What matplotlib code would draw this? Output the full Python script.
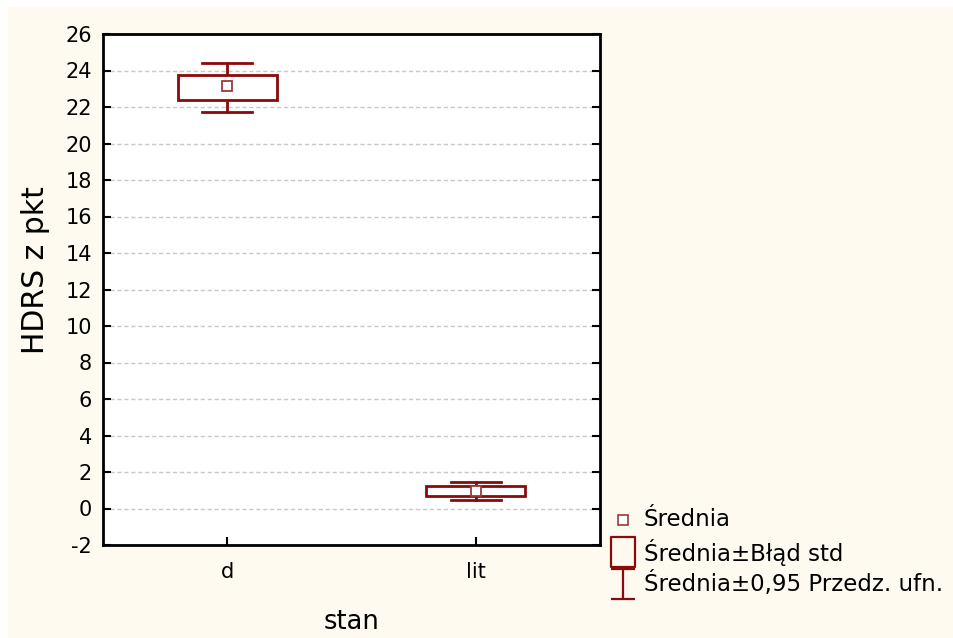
import matplotlib.pyplot as plt
from matplotlib.patches import Rectangle
from matplotlib.lines import Line2D
from matplotlib.path import Path

groups = ['d', 'lit']
means = [23.15, 0.96]
se_low = [22.4, 0.68]
se_high = [23.75, 1.23]
ci_low = [21.75, 0.47]
ci_high = [24.4, 1.45]
yticks = list(range(-2, 27, 2))

plt.rcParams['font.family'] = ['DejaVu Sans']
plt.rcParams['axes.unicode_minus'] = False
red = '#8B0A0A'
mean_edge = '#9A3A3A'
cream = '#FEFAF0'

W, H = 954, 638
fig = plt.figure(figsize=(W / 100, H / 100), dpi=100)
fig.patch.set_facecolor('white')
# cream background panel
fig.patches.append(Rectangle((8 / W, 0), 1, 1 - 7 / H, transform=fig.transFigure,
                             facecolor=cream, edgecolor='none', zorder=-10))

ax = fig.add_axes([103 / W, 1 - 545 / H, 497 / W, 511 / H])
ax.set_facecolor('white')

box_w = 0.4
cap_w = 0.2
for i in range(len(groups)):
    # whiskers (CI)
    ax.plot([i, i], [ci_low[i], se_low[i]], color=red, lw=2, zorder=3)
    ax.plot([i, i], [se_high[i], ci_high[i]], color=red, lw=2, zorder=3)
    ax.plot([i - cap_w / 2, i + cap_w / 2], [ci_low[i]] * 2, color=red, lw=2, zorder=3)
    ax.plot([i - cap_w / 2, i + cap_w / 2], [ci_high[i]] * 2, color=red, lw=2, zorder=3)
    # box (SE)
    ax.add_patch(Rectangle((i - box_w / 2, se_low[i]), box_w, se_high[i] - se_low[i],
                           facecolor='white', edgecolor=red, lw=2, zorder=4))
    # mean marker
    ax.plot(i, means[i], marker='s', ms=7.5, mfc='white', mec=mean_edge, mew=1.3,
            linestyle='none', zorder=5)

ax.set_xlim(-0.5, 1.5)
ax.set_ylim(-2, 26)
ax.set_xticks(range(len(groups)))
ax.set_xticklabels(groups)
ax.set_yticks(yticks)
ax.tick_params(axis='both', direction='in', length=6, width=1.5, labelsize=15,
               pad=8, right=True)
ax.tick_params(axis='x', pad=12)
ax.grid(axis='y', color='#C8C8C8', linestyle=(0, (3, 2)), lw=1)
ax.set_axisbelow(True)
for s in ax.spines.values():
    s.set_linewidth(2)

ax.set_xlabel('stan', fontsize=18.5, va='center')
ax.xaxis.set_label_coords(0.5, (545 - 622) / 511)
ax.set_ylabel('HDRS z pkt', fontsize=21.5, va='center')
ax.yaxis.set_label_coords((36 - 103) / 497, (545 - 270) / 511)

# legend, drawn by hand to reproduce the box / I-bar symbols
box_path = Path([(-0.4, -0.5), (0.4, -0.5), (0.4, 0.5), (-0.4, 0.5), (-0.4, -0.5)],
                [Path.MOVETO, Path.LINETO, Path.LINETO, Path.LINETO, Path.CLOSEPOLY])
ibar_path = Path([(-0.4, -0.5), (0.4, -0.5), (0, -0.5), (0, 0.5), (-0.4, 0.5), (0.4, 0.5)],
                 [Path.MOVETO, Path.LINETO, Path.MOVETO, Path.LINETO, Path.MOVETO, Path.LINETO])
labels = ['Średnia', 'Średnia±Błąd std', 'Średnia±0,95 Przedz. ufn.']
styles = [
    dict(marker='s', ms=7, mfc='white', mec=mean_edge, mew=1.2),
    dict(marker=box_path, ms=21, mfc='none', mec=red, mew=1.6),
    dict(marker=ibar_path, ms=22, mfc='none', mec=red, mew=1.6),
]
rows_y = [520, 552, 584]
for lab, st, y in zip(labels, styles, rows_y):
    fig.add_artist(Line2D([623 / W], [1 - y / H], transform=fig.transFigure,
                          linestyle='none', **st))
    fig.text(644 / W, 1 - y / H, lab, fontsize=16.5, va='center', ha='left')

fig.savefig('out.png', dpi=100, facecolor=fig.get_facecolor())
